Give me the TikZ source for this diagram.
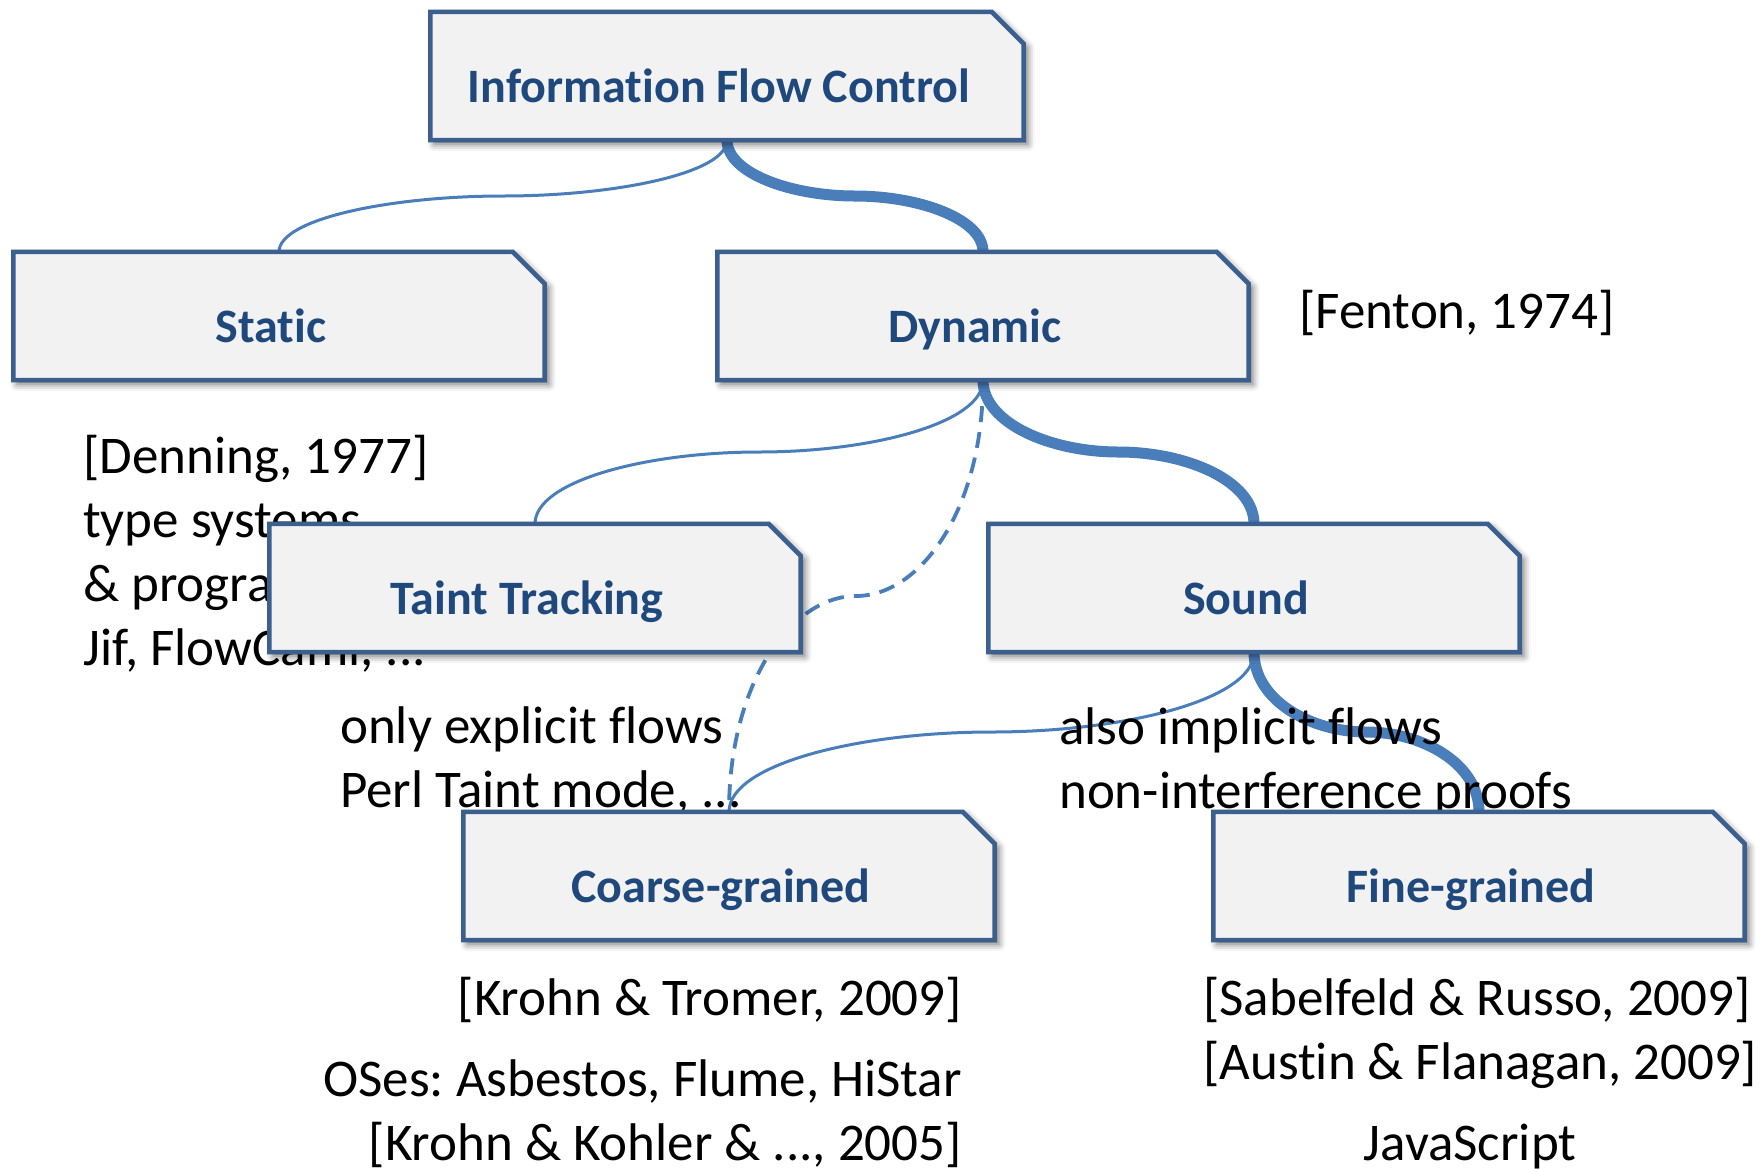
\documentclass[tikz,border=0pt]{standalone}
\usepackage{fontspec}
\setmainfont{Carlito}[Ligatures=NoCommon]
\frenchspacing
\usetikzlibrary{calc,shadows.blur}
\definecolor{boxfill}{HTML}{F2F2F2}
\definecolor{boxline}{HTML}{3B5F8E}
\definecolor{lblcol}{HTML}{1F497D}
\definecolor{conn}{HTML}{4A7EBB}
\begin{document}
\begin{tikzpicture}[x=1pt,y=1pt,
  frame/.style={rectangle, inner sep=0pt, minimum height=128pt},
  boxshape/.style={draw=boxline, line width=4.5pt, fill=boxfill,
    blur shadow={shadow xshift=4pt, shadow yshift=-4pt, shadow blur radius=7pt, shadow opacity=60}},
  lbl/.style={font=\fontsize{48}{58}\selectfont\bfseries, text=lblcol, inner sep=0pt, anchor=base},
  txt/.style={font=\fontsize{53}{64}\selectfont, inner sep=0pt},
  thinconn/.style={draw=conn, line width=3pt},
  thickconn/.style={draw=conn, line width=11pt},
  dashconn/.style={draw=conn, line width=3.8pt, dash pattern=on 16pt off 10pt},
]
\useasboundingbox (0,0) rectangle (1763,-1168);
% box frames (named)
\node[frame, minimum width=593pt] (ifc) at (727,-76) {};
\node[frame, minimum width=531pt] (static) at (279,-316) {};
\node[frame, minimum width=531pt] (dyn) at (983,-316) {};
\node[frame, minimum width=531pt] (taint) at (535,-588) {};
\node[frame, minimum width=531pt] (sound) at (1254,-588) {};
\node[frame, minimum width=531pt] (coarse) at (729,-876) {};
\node[frame, minimum width=531pt] (fine) at (1479,-876) {};
% connectors
\draw[thinconn] (ifc.south) .. controls +(0,-33) and +(112,0) .. ($(ifc.south)!0.5!(static.north)$) .. controls +(-112,0) and +(0,33) .. (static.north);
\draw[thickconn] (ifc.south) .. controls +(0,-33) and +(-64,0) .. ($(ifc.south)!0.5!(dyn.north)$) .. controls +(64,0) and +(0,33) .. (dyn.north);
\draw[thinconn] (dyn.south) .. controls +(0,-43) and +(112,0) .. ($(dyn.south)!0.5!(taint.north)$) .. controls +(-112,0) and +(0,43) .. (taint.north);
\draw[thickconn] (dyn.south) .. controls +(0,-43) and +(-68,0) .. ($(dyn.south)!0.5!(sound.north)$) .. controls +(68,0) and +(0,43) .. (sound.north);
\draw[dashconn] (dyn.south) .. controls +(0,-130) and +(64,0) .. ($(dyn.south)!0.5!(coarse.north)$) .. controls +(-64,0) and +(0,130) .. (coarse.north);
\draw[thinconn] (sound.south) .. controls +(0,-48) and +(131,0) .. ($(sound.south)!0.5!(coarse.north)$) .. controls +(-131,0) and +(0,48) .. (coarse.north);
\draw[thickconn] (sound.south) .. controls +(0,-48) and +(-56,0) .. ($(sound.south)!0.5!(fine.north)$) .. controls +(56,0) and +(0,48) .. (fine.north);
% texts (multi-line nodes: base anchor is the last line)
\node[txt, anchor=base west] (fenton) at (1299,-328) {[Fenton, 1974]};
\node[txt, anchor=base west, align=left] (denning) at (83,-665) {[Denning, 1977]\\type systems\\\& programming languages\\Jif, FlowCaml, ...};
\node[txt, anchor=base west, align=left] (explicit) at (340,-807) {only explicit flows\\Perl Taint mode, ...};
\node[txt, anchor=base west, align=left] (implicit) at (1059,-808) {also implicit flows\\non-interference proofs};
\node[txt, anchor=base east] (tromer) at (962,-1015) {[Krohn \& Tromer, 2009]};
\node[txt, anchor=base east, align=right] (oses) at (962,-1160) {OSes: Asbestos, Flume, HiStar\\{[}Krohn \& Kohler \& ..., 2005]};
\node[txt, anchor=base west, align=left] (sabelfeld) at (1203,-1079) {[Sabelfeld \& Russo, 2009]\\{[}Austin \& Flanagan, 2009]};
\node[txt, anchor=base] (js) at (1470,-1160) {JavaScript};
% boxes
\foreach \n in {ifc,static,dyn,taint,sound,coarse,fine}
  \path[boxshape] (\n.south west) -- (\n.north west) -- ([xshift=-32pt]\n.north east) -- ([yshift=-32pt]\n.north east) -- (\n.south east) -- cycle;
% labels
\node[lbl] (ifcl) at ([xshift=-8pt,yshift=-26pt]ifc.center) {Information Flow Control};
\node[lbl] (staticl) at ([xshift=-8pt,yshift=-26pt]static.center) {Static};
\node[lbl] (dynl) at ([xshift=-8pt,yshift=-26pt]dyn.center) {Dynamic};
\node[lbl] (taintl) at ([xshift=-8pt,yshift=-26pt]taint.center) {Taint Tracking};
\node[lbl] (soundl) at ([xshift=-8pt,yshift=-26pt]sound.center) {Sound};
\node[lbl] (coarsel) at ([xshift=-8pt,yshift=-26pt]coarse.center) {Coarse-grained};
\node[lbl] (finel) at ([xshift=-8pt,yshift=-26pt]fine.center) {Fine-grained};
\end{tikzpicture}
\end{document}
